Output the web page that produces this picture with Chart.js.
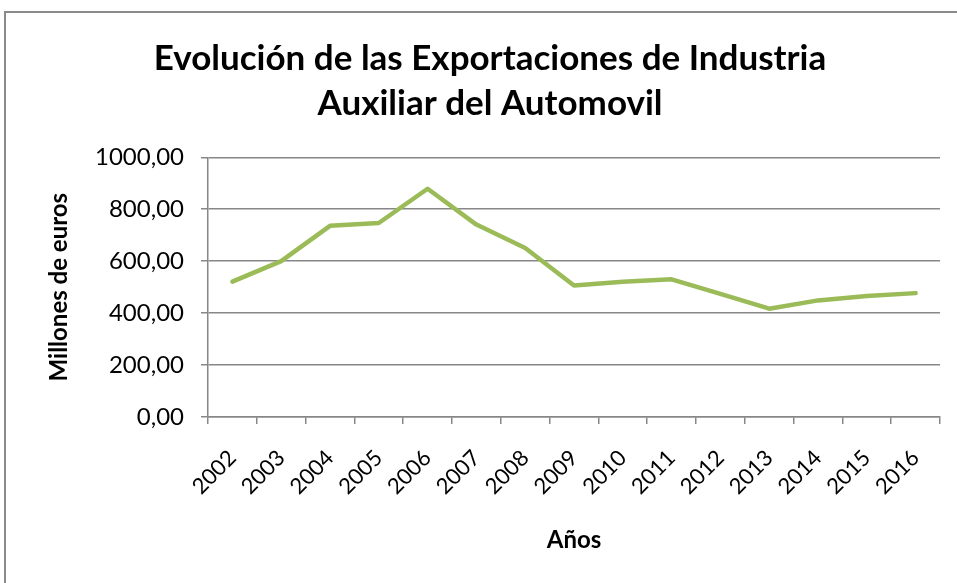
<!DOCTYPE html>
<html lang="es">
<head>
<meta charset="utf-8">
<title>Exportaciones Industria Auxiliar del Automovil</title>
<script src="https://cdn.jsdelivr.net/npm/chart.js@4/dist/chart.umd.min.js"></script>
<style>
  html, body { margin: 0; padding: 0; background: #fff; overflow: hidden; }
  #wrap { position: relative; width: 957px; height: 583px; }
  #frame { position: absolute; left: 4px; top: 11px; width: 1000px; height: 1000px;
           border: 2px solid #8a8a8a; pointer-events: none; }
  canvas { position: absolute; left: 0; top: 0; }
</style>
</head>
<body>
<div id="wrap">
  <canvas id="exportChart" width="957" height="583"></canvas>
  <div id="frame"></div>
</div>
<script>
const years = ['2002','2003','2004','2005','2006','2007','2008','2009','2010','2011','2012','2013','2014','2015','2016'];
const exportaciones = [521, 600, 736, 747, 879, 741, 651, 506, 521, 530, 474, 417, 449, 466, 477];
const yTickValues = [0, 200, 400, 600, 800, 1000];

const gridGray = '#878787';
const fontFamily = 'Lato, "Open Sans", sans-serif';

document.addEventListener('DOMContentLoaded', function() {
  const ctx = document.getElementById('exportChart');
  new Chart(ctx.getContext('2d'), {
    type: 'line',
    data: {
      labels: years,
      datasets: [{
        label: 'Exportaciones',
        data: exportaciones,
        borderColor: '#9BBB59',
        borderWidth: 4.5,
        borderCapStyle: 'round',
        borderJoinStyle: 'round',
        pointRadius: 0,
        tension: 0,
        fill: false
      }]
    },
    options: {
      responsive: false,
      animation: false,
      devicePixelRatio: 1,
      layout: { padding: { left: 40, right: 17, top: 0, bottom: 0 } },
      plugins: {
        legend: { display: false },
        tooltip: { enabled: false },
        title: {
          display: true,
          text: ['Evolución de las Exportaciones de Industria', 'Auxiliar del Automovil'],
          color: '#000',
          font: { family: fontFamily, size: 35, weight: 'bold', lineHeight: 1.29 },
          padding: { top: 36, bottom: 31 }
        }
      },
      scales: {
        x: {
          offset: true,
          grid: { display: true, offset: true, drawOnChartArea: false, drawTicks: true,
                  tickLength: 7, color: gridGray, lineWidth: 1.5 },
          border: { display: true, color: gridGray, width: 1.5 },
          ticks: { color: '#000', minRotation: 45, maxRotation: 45, padding: 21,
                   font: { family: fontFamily, size: 22 } },
          title: { display: true, text: 'Años', color: '#000',
                   font: { family: fontFamily, size: 24, weight: 'bold' },
                   padding: { top: 0, bottom: 28 } },
          afterFit: function(scale) { scale.height = 166; }
        },
        y: {
          min: 0,
          max: 1000,
          afterBuildTicks: function(scale) {
            scale.ticks = yTickValues.map(v => ({ value: v }));
          },
          grid: { display: true, drawTicks: true, tickLength: 7, color: gridGray, lineWidth: 1.5 },
          border: { display: true, color: gridGray, width: 1.5 },
          ticks: {
            color: '#000', padding: 17,
            font: { family: fontFamily, size: 24 },
            callback: function(value) { return value.toFixed(2).replace('.', ','); }
          },
          title: { display: true, text: 'Millones de euros', color: '#000',
                   font: { family: fontFamily, size: 24, weight: 'bold' },
                   padding: { top: 5, bottom: 0 } },
          afterFit: function(scale) { scale.width = 168; }
        }
      }
    }
  });
});
</script>
</body>
</html>
